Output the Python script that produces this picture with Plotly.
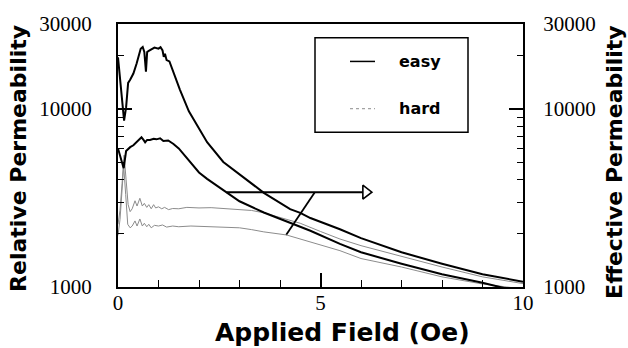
import math
import plotly.graph_objects as go

# ---------------- data ----------------
# Relative permeability, easy axis (upper solid curve)
x_rel_easy = [0, 0.05, 0.1, 0.15, 0.2, 0.25, 0.3, 0.38, 0.46, 0.52, 0.56, 0.61, 0.65, 0.69, 0.72,
              0.76, 0.8, 0.9, 1.0, 1.05, 1.1, 1.13, 1.16, 1.2, 1.27, 1.37, 1.53, 1.75, 2.0, 2.2,
              2.6, 3.0, 3.6, 4.25, 4.5, 4.75, 5.48, 6.0, 7.0, 8.0, 9.0, 10.0]
y_rel_easy = [19500, 14900, 11400, 8600, 10200, 14000, 14600, 15800, 18000, 20500, 21800, 22300,
              20900, 16200, 20900, 21200, 21500, 22100, 21800, 22200, 21300, 19600, 20400, 18800,
              18500, 15900, 12800, 9700, 7800, 6500, 5040, 4300, 3380, 2735, 2610, 2440, 2110,
              1880, 1567, 1352, 1180, 1070]

# Effective permeability, easy axis (lower solid curve)
x_eff_easy = [0, 0.05, 0.1, 0.14, 0.2, 0.3, 0.38, 0.46, 0.52, 0.58, 0.63, 0.67, 0.72, 0.79, 0.88,
              0.95, 1.04, 1.12, 1.24, 1.37, 1.5, 1.78, 2.0, 2.2, 2.65, 3.0, 3.6, 4.25, 4.5, 4.75,
              5.48, 6.0, 7.0, 8.0, 9.0, 9.4, 10.0]
y_eff_easy = [6000, 5500, 4900, 4650, 5800, 6100, 6250, 6500, 6700, 6930, 6700, 6500, 6700, 6700,
              6800, 6750, 6840, 6600, 6650, 6360, 6000, 5040, 4400, 4050, 3420, 3030, 2620, 2280,
              2170, 2070, 1745, 1567, 1352, 1180, 1056, 1000, 930]

# Relative permeability, hard axis (upper grey curve)
x_rel_hard = [0, 0.05, 0.1, 0.15, 0.2, 0.25, 0.3, 0.35, 0.42, 0.47, 0.54, 0.6, 0.65, 0.71, 0.76,
              0.82, 0.88, 0.93, 1.0, 1.08, 1.15, 1.25, 1.35, 1.5, 1.7, 2.0, 2.3, 2.6, 2.9, 3.3,
              3.6, 4.25, 4.5, 5.0, 5.48, 6.0, 7.0, 8.0, 9.0, 10.0]
y_rel_hard = [2250, 2700, 3800, 5500, 4000, 2900, 2650, 2750, 3050, 2850, 3150, 2850, 2950, 2800,
              2900, 2750, 2900, 2780, 2820, 2750, 2800, 2720, 2760, 2750, 2800, 2780, 2790, 2760,
              2730, 2690, 2610, 2350, 2280, 2050, 1860, 1707, 1484, 1295, 1140, 1045]

# Effective permeability, hard axis (lower grey curve)
x_eff_hard = [0, 0.05, 0.1, 0.14, 0.19, 0.24, 0.3, 0.35, 0.42, 0.47, 0.54, 0.6, 0.65, 0.71, 0.76,
              0.82, 0.9, 1.0, 1.1, 1.2, 1.35, 1.5, 1.8, 2.0, 2.5, 3.0, 3.3, 3.6, 4.16, 4.5, 5.0,
              5.48, 6.0, 7.0, 8.0, 9.0, 9.6, 10.0]
y_eff_hard = [1950, 2400, 3500, 4800, 3300, 2250, 2150, 2200, 2350, 2200, 2410, 2200, 2280, 2180,
              2250, 2150, 2220, 2200, 2230, 2170, 2200, 2180, 2200, 2190, 2180, 2150, 2100, 2040,
              1960, 1860, 1730, 1600, 1445, 1295, 1140, 1040, 1000, 975]

# Arrow pointing to the right axis
arrow_x = [2.68, 6.05]
arrow_y = [3410, 3410]
arrow_tip_x = [6.12]
arrow_tip_y = [3410]
diag_x = [4.86, 4.15]
diag_y = [3410, 1956]

# Axis ticks
x_major_ticks = [0, 5, 10]
x_minor_ticks = [1, 2, 3, 4, 6, 7, 8, 9]
y_major_ticks = [1000, 10000, 30000]
y_major_text = ["1000", "10000", "30000"]
y_minor_ticks = [2000, 3000, 4000, 5000, 6000, 7000, 8000, 9000, 20000]

legend_labels = ["easy", "hard"]

# ---------------- figure ----------------
EASY = dict(color="black", width=2)
HARD = dict(color="#8c8c8c", width=1)

fig = go.Figure()
fig.add_trace(go.Scatter(x=x_rel_hard, y=y_rel_hard, mode="lines", line=HARD, showlegend=False))
fig.add_trace(go.Scatter(x=x_eff_hard, y=y_eff_hard, mode="lines", line=HARD, showlegend=False, yaxis="y2"))
fig.add_trace(go.Scatter(x=x_rel_easy, y=y_rel_easy, mode="lines", line=EASY, showlegend=False))
fig.add_trace(go.Scatter(x=x_eff_easy, y=y_eff_easy, mode="lines", line=EASY, showlegend=False, yaxis="y2"))

fig.add_trace(go.Scatter(x=arrow_x, y=arrow_y, mode="lines", line=dict(color="black", width=2),
                         showlegend=False))
fig.add_trace(go.Scatter(x=arrow_tip_x, y=arrow_tip_y, mode="markers",
                         marker=dict(symbol="triangle-right-open", size=12,
                                     color="black", line=dict(width=1.6, color="black")),
                         showlegend=False))
fig.add_trace(go.Scatter(x=diag_x, y=diag_y, mode="lines", line=dict(color="black", width=1.8),
                         showlegend=False))

yr = [3, math.log10(30000)]
SERIF = "'Liberation Serif', 'Times New Roman', Times, serif"
tickfont = dict(family=SERIF, size=21, color="black")

common_y = dict(
    type="log", range=yr, showgrid=False, zeroline=False,
    showline=True, linecolor="black", linewidth=2,
    ticks="inside", ticklen=14, tickwidth=1.5, tickcolor="black",
    tickvals=y_major_ticks, ticktext=y_major_text, tickfont=tickfont,
    minor=dict(tickvals=y_minor_ticks, ticks="inside", ticklen=6, tickwidth=1.2, tickcolor="black"),
)

fig.update_layout(
    width=628, height=348,
    margin=dict(l=118, r=105, t=20, b=61),
    paper_bgcolor="white", plot_bgcolor="white",
    showlegend=False,
    font=dict(family=SERIF),
    xaxis=dict(
        range=[0, 10], showgrid=False, zeroline=False,
        showline=True, linecolor="black", linewidth=2, mirror=True,
        ticks="inside", ticklen=14, tickwidth=1.5, tickcolor="black",
        tickvals=x_major_ticks, tickfont=tickfont, ticklabelstandoff=-4,
        minor=dict(tickvals=x_minor_ticks, ticks="inside", ticklen=7, tickwidth=1.2, tickcolor="black"),
    ),
    yaxis=dict(**common_y, side="left", ticklabelstandoff=20),
    yaxis2=dict(**common_y, side="right", overlaying="y", ticklabelstandoff=14),
)

W, H = 405.0, 267.0
def px(xp):
    return (xp - 118) / W
def py(yp):
    return (287 - yp) / H

SANS = "'DejaVu Sans', Verdana, sans-serif"
title_font_y = dict(family=SANS, size=22, color="black")
fig.add_annotation(text="<b>Relative Permeability</b>", xref="paper", yref="paper",
                   x=px(19), y=py(157), textangle=-90, showarrow=False,
                   xanchor="center", yanchor="middle", font=title_font_y)
fig.add_annotation(text="<b>Effective Permeability</b>", xref="paper", yref="paper",
                   x=px(615), y=py(160), textangle=-90, showarrow=False,
                   xanchor="center", yanchor="middle", font=title_font_y)
fig.add_annotation(text="<b>Applied Field (Oe)</b>", xref="paper", yref="paper",
                   x=px(342), y=py(333), showarrow=False,
                   xanchor="center", yanchor="middle",
                   font=dict(family=SANS, size=25, color="black"))

# legend box
fig.add_shape(type="rect", xref="paper", yref="paper",
              x0=px(315), x1=px(468), y0=py(130), y1=py(34),
              line=dict(color="black", width=1.5), fillcolor="white", layer="above")
fig.add_shape(type="line", xref="paper", yref="paper",
              x0=px(350), x1=px(375), y0=py(58), y1=py(58),
              line=dict(color="black", width=1.5), layer="above")
fig.add_shape(type="line", xref="paper", yref="paper",
              x0=px(350), x1=px(375), y0=py(106), y1=py(106),
              line=dict(color="#8c8c8c", width=1, dash="dot"), layer="above")
for lab, yy in zip(legend_labels, [58, 106]):
    fig.add_annotation(text="<b>%s</b>" % lab, xref="paper", yref="paper",
                       x=px(397), y=py(yy), showarrow=False, xanchor="left", yanchor="middle",
                       font=dict(family=SANS, size=16, color="black"))

fig.write_html("out.html")
